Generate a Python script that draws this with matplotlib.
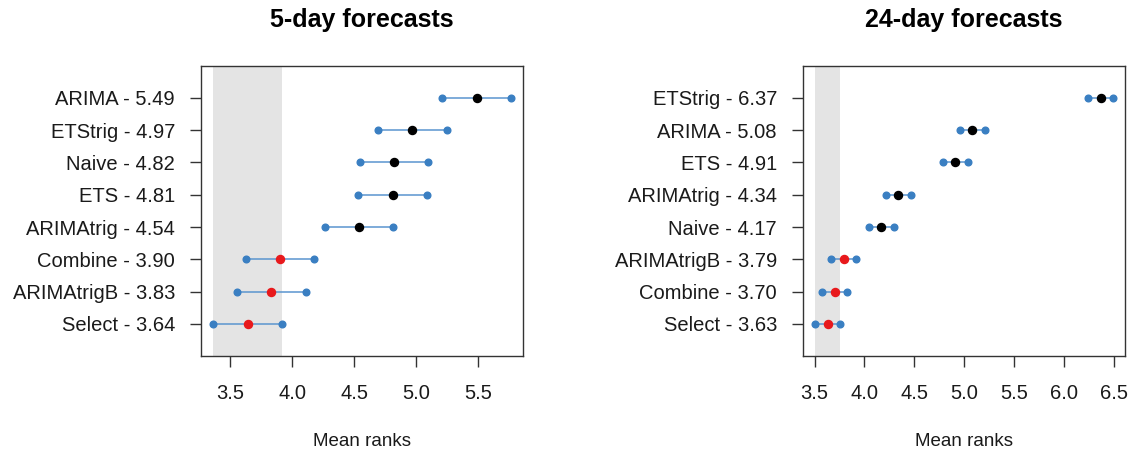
import numpy as np
import matplotlib
matplotlib.use("Agg")
import matplotlib.pyplot as plt

plt.rcParams['font.family'] = ['Liberation Sans', 'DejaVu Sans']

# 5-day forecasts (top to bottom)
methods_5 = ["ARIMA", "ETStrig", "Naive", "ETS", "ARIMAtrig", "Combine", "ARIMAtrigB", "Select"]
ranks_5 = [5.49, 4.97, 4.82, 4.81, 4.54, 3.90, 3.83, 3.64]
halfwidth_5 = 0.277

# 24-day forecasts (top to bottom)
methods_24 = ["ETStrig", "ARIMA", "ETS", "ARIMAtrig", "Naive", "ARIMAtrigB", "Combine", "Select"]
ranks_24 = [6.37, 5.08, 4.91, 4.34, 4.17, 3.79, 3.70, 3.63]
halfwidth_24 = 0.125

xticks_5 = [3.5, 4.0, 4.5, 5.0, 5.5]
xticks_24 = [3.5, 4.0, 4.5, 5.0, 5.5, 6.0, 6.5]

BLUE = "#3a7fc2"
LINE_BLUE = "#5a95cf"


def mcb_panel(ax, methods, ranks, hw, xticks, title):
    ranks = np.asarray(ranks)
    n = len(ranks)
    ypos = np.arange(n, 0, -1)
    best = ranks.min()
    # shaded band: interval of the best method
    ax.axvspan(best - hw, best + hw, color="#e4e4e4", zorder=0, lw=0)
    for y, r in zip(ypos, ranks):
        ax.plot([r - hw, r + hw], [y, y], color=LINE_BLUE, lw=1.1, zorder=2)
        ax.plot([r - hw, r + hw], [y, y], "o", color=BLUE, ms=4.8, zorder=3)
        col = "#e8191c" if r - hw <= best + hw else "black"
        ax.plot(r, y, "o", color=col, ms=5.8, zorder=4)
    lo, hi = ranks.min() - hw, ranks.max() + hw
    pad = 0.04 * (hi - lo)
    ax.set_xlim(lo - pad, hi + pad)
    ax.set_ylim(0, n + 1)
    ax.set_yticks(ypos)
    ax.set_yticklabels([f"{m} - {r:.2f}" for m, r in zip(methods, ranks)])
    ax.set_xticks(xticks)
    ax.set_xticklabels([f"{t:.1f}" for t in xticks])
    ax.tick_params(axis="both", length=8, width=1, labelsize=14.5, colors="#333333",
                   labelcolor="#1a1a1a")
    ax.tick_params(axis="y", pad=11)
    ax.tick_params(axis="x", pad=12)
    for s in ax.spines.values():
        s.set_linewidth(1)
        s.set_color("#333333")
    ax.set_xlabel("Mean ranks", fontsize=13.5, labelpad=22, color="#1a1a1a")
    ax.set_title(title, fontsize=18, fontweight="bold", pad=28)


fig = plt.figure(figsize=(11.32, 4.53), dpi=100)
ax1 = fig.add_axes([0.178, 0.214, 0.284, 0.641])
ax2 = fig.add_axes([0.7096, 0.214, 0.2842, 0.641])

mcb_panel(ax1, methods_5, ranks_5, halfwidth_5, xticks_5, "5-day forecasts")
mcb_panel(ax2, methods_24, ranks_24, halfwidth_24, xticks_24, "24-day forecasts")

fig.savefig("out.png", dpi=100)
